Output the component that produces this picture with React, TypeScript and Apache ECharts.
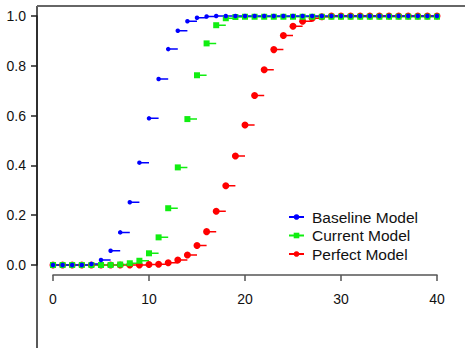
import React, { useEffect, useRef } from "react";
import * as echarts from "echarts";

const xValues = [0, 1, 2, 3, 4, 5, 6, 7, 8, 9, 10, 11, 12, 13, 14, 15, 16, 17, 18, 19, 20, 21, 22, 23, 24, 25, 26, 27, 28, 29, 30, 31, 32, 33, 34, 35, 36, 37, 38, 39, 40];

const baseline = [0, 0, 0, 0, 0.004, 0.02, 0.057, 0.131, 0.252, 0.411, 0.589, 0.747, 0.867, 0.941, 0.979, 0.993, 0.998, 1, 1, 1, 1, 1, 1, 1, 1, 1, 1, 1, 1, 1, 1, 1, 1, 1, 1, 1, 1, 1, 1, 1, 1];
const current = [0, 0, 0, 0, 0, 0, 0, 0.002, 0.007, 0.017, 0.047, 0.111, 0.228, 0.392, 0.586, 0.762, 0.89, 0.963, 0.991, 0.996, 0.997, 0.997, 0.997, 0.997, 0.997, 0.997, 0.997, 0.997, 0.997, 0.997, 0.997, 0.997, 0.997, 0.997, 0.997, 0.997, 0.997, 0.997, 0.997, 0.997, 0.997];
const perfect = [0, 0, 0, 0, 0, 0, 0, 0, 0, 0, 0.002, 0.003, 0.009, 0.02, 0.04, 0.078, 0.134, 0.216, 0.318, 0.438, 0.562, 0.681, 0.784, 0.865, 0.922, 0.959, 0.979, 0.991, 0.997, 1, 1, 1, 1, 1, 1, 1, 1, 1, 1, 1, 1];

const xTicks = { min: 0, max: 40, interval: 10 };
const yTicks = { min: 0, max: 1, interval: 0.2 };

const FONT = "Liberation Sans";

function steps(vals: number[]) {
  const out: any[] = [];
  vals.forEach((v, i) => {
    out.push({ value: [xValues[i], v] });
    if (i < vals.length - 1) {
      out.push({ value: [xValues[i + 1], v], symbol: "none" });
      out.push({ value: [xValues[i + 1], null], symbol: "none" });
    }
  });
  return out;
}

export default function App() {
  const ref = useRef<HTMLDivElement>(null);
  useEffect(() => {
    if (!ref.current) return;
    const chart = echarts.init(ref.current, null, { renderer: "svg" });
    const mk = (name: string, vals: number[], color: string, symbol: string, size: number) => ({
      name,
      type: "line",
      data: steps(vals),
      symbol,
      symbolSize: size,
      showAllSymbol: true,
      clip: false,
      connectNulls: false,
      lineStyle: { color, width: 1.5 },
      itemStyle: { color, borderWidth: 0 },
      emphasis: { disabled: true },
    });
    chart.setOption({
      animation: false,
      backgroundColor: "#fff",
      textStyle: { fontFamily: FONT },
      grid: { left: 53, right: 28, top: 16, bottom: 83, outerBoundsMode: "none" },
      xAxis: {
        type: "value",
        ...xTicks,
        offset: 10,
        axisLine: { show: true, onZero: false, lineStyle: { color: "#555", width: 1.5 } },
        axisTick: { show: true, length: 6, lineStyle: { color: "#555", width: 1.5 } },
        axisLabel: { color: "#111", fontSize: 14, fontFamily: FONT, margin: 17 },
        splitLine: { show: false },
      },
      yAxis: {
        type: "value",
        ...yTicks,
        offset: 16,
        axisLine: { show: true, onZero: false, lineStyle: { color: "#222", width: 1.5 } },
        axisTick: { show: true, length: 6, lineStyle: { color: "#222", width: 1.5 } },
        axisLabel: {
          color: "#111",
          fontSize: 14,
          fontFamily: FONT,
          margin: 11,
          formatter: (v: number) => v.toFixed(1),
        },
        splitLine: { show: false },
      },
      legend: {
        data: ["Baseline Model", "Current Model", "Perfect Model"],
        orient: "vertical",
        left: 288,
        top: 209,
        padding: 0,
        itemWidth: 15,
        itemHeight: 7,
        itemGap: 2.5,
        textStyle: { fontSize: 15.5, fontFamily: FONT, color: "#111", padding: [0, 0, 0, 3] },
      },
      graphic: [
        { type: "line", shape: { x1: 37, y1: 6, x2: 37, y2: 348 }, style: { stroke: "#222", lineWidth: 1.5 }, silent: true },
        { type: "line", shape: { x1: 37, y1: 6, x2: 465, y2: 6 }, style: { stroke: "#666", lineWidth: 2 }, silent: true },
      ],
      series: [
        mk("Perfect Model", perfect, "#ff0000", "circle", 7),
        mk("Current Model", current, "#11ee11", "rect", 6),
        mk("Baseline Model", baseline, "#0000ff", "circle", 4.5),
      ],
    });
    return () => chart.dispose();
  }, []);
  return <div ref={ref} style={{ width: 465, height: 348, position: "absolute", left: 0, top: 0 }} />;
}
